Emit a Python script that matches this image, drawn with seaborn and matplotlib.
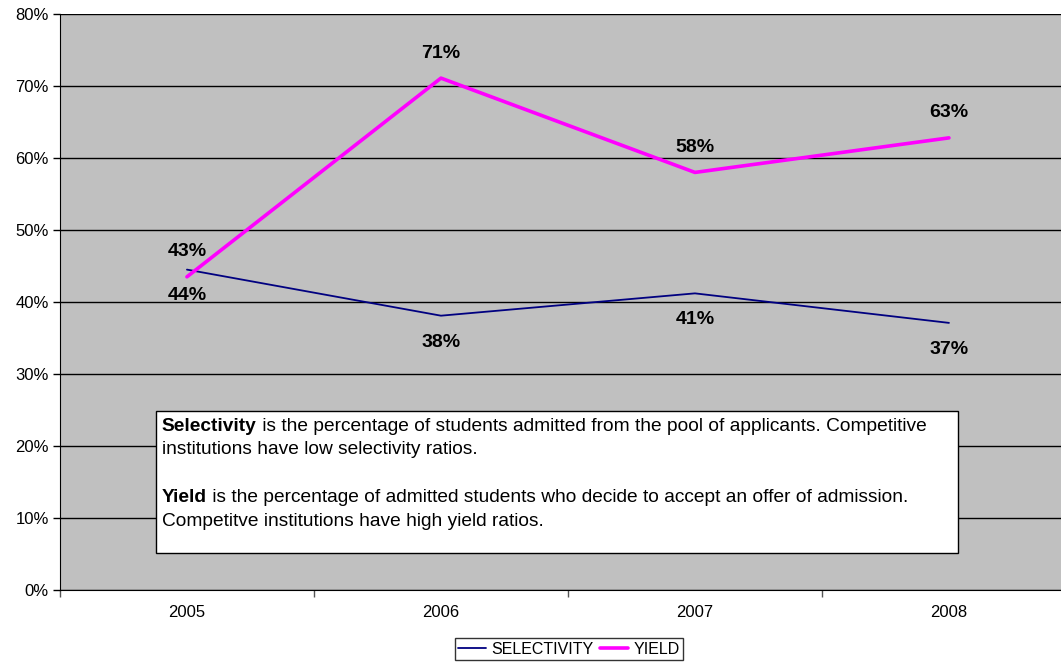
import pandas as pd
import matplotlib.pyplot as plt
import seaborn as sns
from matplotlib.patches import Rectangle
from matplotlib.ticker import PercentFormatter, FixedLocator

anos = ['2005', '2006', '2007', '2008']
selectivity = [44.5, 38.1, 41.2, 37.1]
yield_ = [43.5, 71.1, 58.0, 62.8]
selectivity_labels = ['44%', '38%', '41%', '37%']
yield_labels = ['43%', '71%', '58%', '63%']

df = pd.DataFrame({
    'ANO': list(range(len(anos))) * 2,
    'VALOR': selectivity + yield_,
    'SERIE': ['SELECTIVITY'] * len(anos) + ['YIELD'] * len(anos),
})

sns.set_style('white')
plt.rcParams['font.family'] = ['Liberation Sans', 'DejaVu Sans']
plt.rcParams['text.color'] = 'black'
plt.rcParams['xtick.color'] = 'black'
plt.rcParams['ytick.color'] = 'black'
plt.rcParams['axes.labelcolor'] = 'black'

fig = plt.figure(figsize=(10.61, 6.62), dpi=100)
ax = fig.add_axes([0.0565, 0.1088, 0.9576, 0.870])
ax.set_facecolor('#C0C0C0')

sns.lineplot(data=df, x='ANO', y='VALOR', hue='SERIE', size='SERIE',
             palette={'SELECTIVITY': '#000080', 'YIELD': '#FF00FF'},
             sizes={'SELECTIVITY': 1.3, 'YIELD': 2.6},
             ax=ax, legend=False, zorder=3)

for i in range(len(anos)):
    ax.annotate(selectivity_labels[i], (i, selectivity[i]), xytext=(0, -19),
                textcoords='offset points', ha='center', va='center',
                fontsize=14, fontweight='bold', color='black', zorder=4)
    ax.annotate(yield_labels[i], (i, yield_[i]), xytext=(0, 18),
                textcoords='offset points', ha='center', va='center',
                fontsize=14, fontweight='bold', color='black', zorder=4)

ax.set_xlim(-0.5, 3.5)
ax.set_ylim(0, 80)
ax.set_yticks(range(0, 81, 10))
ax.yaxis.set_major_formatter(PercentFormatter(decimals=0))
ax.grid(axis='y', color='black', linewidth=1)
ax.set_axisbelow(True)

ax.set_xticks(range(len(anos)))
ax.set_xticklabels(anos)
ax.xaxis.set_minor_locator(FixedLocator([-0.5, 0.5, 1.5, 2.5, 3.5]))
ax.tick_params(axis='x', which='major', length=0, pad=11, labelsize=12)
ax.tick_params(axis='x', which='minor', length=5, width=1, color='#555555', direction='out', bottom=True)
ax.tick_params(axis='y', length=5, width=1, direction='out', left=True, labelsize=12, pad=3)
ax.set_xlabel('')
ax.set_ylabel('')

for s in ['top', 'right']:
    ax.spines[s].set_visible(False)
ax.spines['left'].set_color('black')
ax.spines['bottom'].set_color('black')

# caixa de texto
ax.add_patch(Rectangle((0.0945, 0.0642), 0.7895, 0.2466, transform=ax.transAxes,
                       facecolor='white', edgecolor='black', linewidth=1, zorder=5))

linhas = [
    ('Selectivity', ' is the percentage of students admitted from the pool of applicants. Competitive', 0.2765),
    ('', 'institutions have low selectivity ratios.', 0.2361),
    ('Yield', ' is the percentage of admitted students who decide to accept an offer of admission.', 0.1533),
    ('', 'Competitve institutions have high yield ratios.', 0.1116),
]
x0 = 0.1004
for negrito, normal, y in linhas:
    if negrito:
        t = ax.text(x0, y, negrito, transform=ax.transAxes, fontsize=13.8,
                    fontweight='bold', va='baseline', ha='left', zorder=6)
        ax.annotate(normal, xy=(1, 0), xycoords=t, va='bottom', ha='left',
                    fontsize=13.8, zorder=6)
    else:
        ax.text(x0, y, normal, transform=ax.transAxes, fontsize=13.8,
                va='baseline', ha='left', zorder=6)

handles = [plt.Line2D([], [], color='#000080', lw=1.3),
           plt.Line2D([], [], color='#FF00FF', lw=2.6)]
leg = fig.legend(handles, ['SELECTIVITY', 'YIELD'], loc='center',
                 bbox_to_anchor=(569 / 1061, 1 - 649 / 662), ncol=2,
                 fontsize=11.5, frameon=True, fancybox=False, edgecolor='black',
                 handlelength=1.75, handletextpad=0.35, columnspacing=0.4,
                 borderpad=0.2, borderaxespad=0)
leg.get_frame().set_linewidth(1)

fig.savefig('out.png', dpi=100)
